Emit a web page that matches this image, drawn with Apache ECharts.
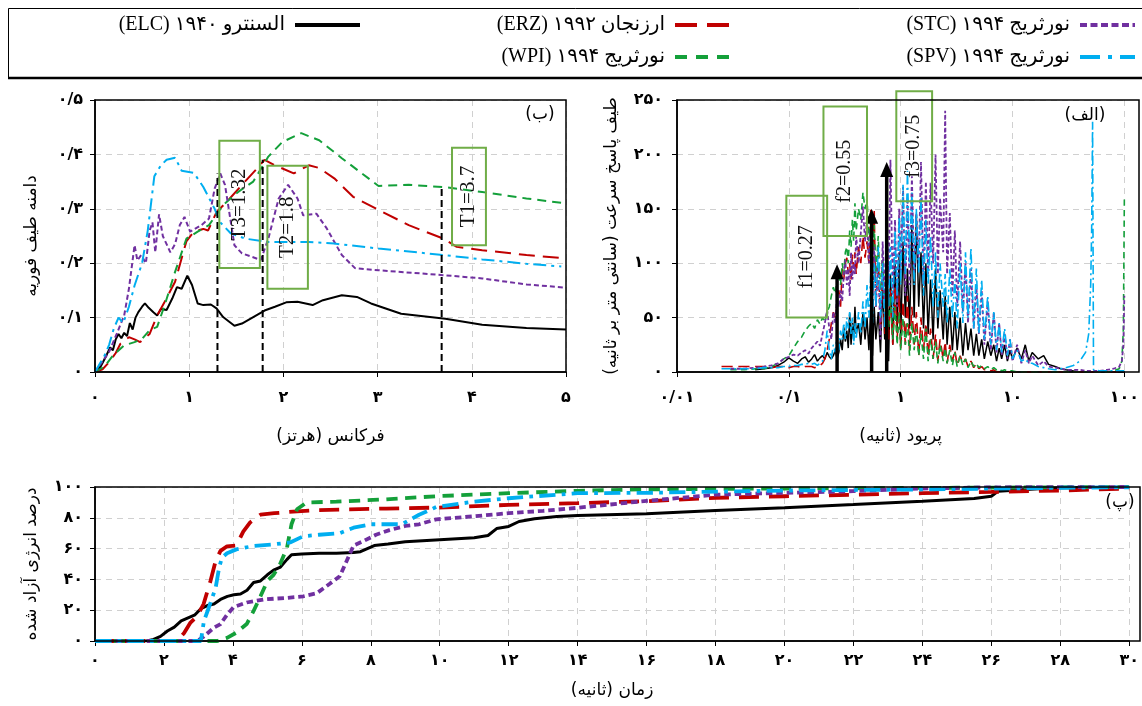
<!DOCTYPE html>
<html><head><meta charset="utf-8">
<script src="https://cdn.jsdelivr.net/npm/echarts@6/dist/echarts.min.js"></script>
<style>html,body{margin:0;padding:0;background:#fff}#c{width:1142px;height:706px;direction:rtl}</style>
</head><body><div id="c" dir="rtl"></div>
<script>
// ---------- names ----------
const nELC = 'السنترو ۱۹۴۰ (ELC)';
const nERZ = 'ارزنجان ۱۹۹۲ (ERZ)';
const nSTC = 'نورثریج ۱۹۹۴ (STC)';
const nSPV = 'نورثریج ۱۹۹۴ (SPV)';
const nWPI = 'نورثریج ۱۹۹۴ (WPI)';

// ---------- tick labels ----------
const fxLabels = ['۰','۱','۲','۳','۴','۵'];
const fyLabels = ['۰','۰/۱','۰/۲','۰/۳','۰/۴','۰/۵'];
const spxLabels = ['۰/۰۱','۰/۱','۱','۱۰','۱۰۰'];
const spyLabels = ['۰','۵۰','۱۰۰','۱۵۰','۲۰۰','۲۵۰'];
const exLabels = ['۰','۲','۴','۶','۸','۱۰','۱۲','۱۴','۱۶','۱۸','۲۰','۲۲','۲۴','۲۶','۲۸','۳۰'];
const eyLabels = ['۰','۲۰','۴۰','۶۰','۸۰','۱۰۰'];

// ---------- (ب) Fourier amplitude spectrum: [freq Hz, amplitude] ----------
const fELC = [[0,0],[0.06,0.01],[0.12,0.03],[0.16,0.045],[0.19,0.04],[0.22,0.06],[0.25,0.07],[0.28,0.062],[0.31,0.072],[0.34,0.066],[0.37,0.09],[0.4,0.078],[0.43,0.1],[0.46,0.11],[0.5,0.12],[0.53,0.126],[0.57,0.118],[0.62,0.11],[0.66,0.104],[0.7,0.116],[0.76,0.114],[0.82,0.135],[0.87,0.156],[0.92,0.153],[0.98,0.177],[1.03,0.16],[1.09,0.126],[1.15,0.123],[1.23,0.124],[1.29,0.117],[1.36,0.101],[1.48,0.085],[1.56,0.089],[1.68,0.101],[1.8,0.113],[1.91,0.12],[2.03,0.128],[2.15,0.129],[2.31,0.123],[2.42,0.132],[2.62,0.141],[2.78,0.138],[2.93,0.126],[3.25,0.107],[3.72,0.098],[4.11,0.087],[4.58,0.081],[5,0.078]];
const fERZ = [[0,0],[0.08,0.005],[0.15,0.018],[0.22,0.035],[0.27,0.052],[0.36,0.064],[0.42,0.06],[0.48,0.055],[0.58,0.07],[0.66,0.104],[0.74,0.129],[0.85,0.166],[0.97,0.24],[1.05,0.258],[1.15,0.263],[1.2,0.26],[1.29,0.294],[1.4,0.313],[1.56,0.344],[1.72,0.374],[1.8,0.39],[1.91,0.38],[2.11,0.365],[2.27,0.38],[2.38,0.375],[2.54,0.356],[2.74,0.322],[3.01,0.298],[3.33,0.27],[3.7,0.245],[3.84,0.23],[4.11,0.224],[4.58,0.215],[5,0.209]];
const fWPI = [[0,0],[0.1,0.01],[0.19,0.03],[0.31,0.049],[0.42,0.055],[0.5,0.061],[0.58,0.077],[0.66,0.083],[0.74,0.123],[0.85,0.184],[0.97,0.245],[1.09,0.258],[1.21,0.27],[1.36,0.307],[1.52,0.331],[1.68,0.35],[1.84,0.396],[1.99,0.423],[2.19,0.439],[2.38,0.426],[2.62,0.393],[3.01,0.342],[3.33,0.344],[3.7,0.34],[4.11,0.331],[4.58,0.319],[5,0.31]];
const fSTC = [[0,0],[0.15,0.037],[0.23,0.07],[0.31,0.104],[0.36,0.153],[0.42,0.233],[0.45,0.205],[0.49,0.215],[0.54,0.2],[0.58,0.26],[0.61,0.275],[0.64,0.22],[0.68,0.29],[0.72,0.25],[0.76,0.235],[0.8,0.22],[0.85,0.235],[0.9,0.27],[0.95,0.285],[1.01,0.258],[1.13,0.27],[1.21,0.282],[1.27,0.337],[1.33,0.365],[1.38,0.344],[1.48,0.233],[1.56,0.218],[1.76,0.206],[1.84,0.245],[1.95,0.319],[2.05,0.344],[2.15,0.319],[2.21,0.288],[2.35,0.291],[2.46,0.264],[2.62,0.215],[2.76,0.191],[3.01,0.187],[3.7,0.178],[4.11,0.172],[4.58,0.161],[5,0.155]];
const fSPV = [[0,0],[0.1,0.03],[0.15,0.05],[0.2,0.08],[0.25,0.1],[0.3,0.09],[0.36,0.12],[0.42,0.159],[0.5,0.2],[0.56,0.26],[0.63,0.36],[0.7,0.38],[0.76,0.39],[0.85,0.394],[0.92,0.37],[1.05,0.366],[1.15,0.34],[1.27,0.3],[1.33,0.275],[1.44,0.255],[1.6,0.245],[1.84,0.239],[2.27,0.239],[2.54,0.236],[3.01,0.227],[3.7,0.215],[4.11,0.207],[4.58,0.199],[4.95,0.194]];
// annotation lines (freq, top amplitude) and boxes [f1, f2, a1, a2]
const fMarkFreq = [1.3, 1.78, 3.68];
const fMarkTop = [0.365, 0.39, 0.338];
const fBoxes = [[1.32,1.75,0.191,0.425],[1.83,2.26,0.153,0.379],[3.79,4.15,0.233,0.412]];
const fBoxText = ['T3=1.32','T2=1.8','T1=3.7'];

// ---------- (الف) velocity response spectrum ----------
const spPeriod = [0.025,0.03,0.04,0.05,0.06,0.07,0.08,0.09,0.1,0.11,
0.12,0.13,0.14,0.15,0.16,0.17,0.18,0.19,0.2,0.21,
0.22,0.23,0.24,0.25,0.26,0.27,0.28,0.29,0.3,0.31,
0.32,0.33,0.34,0.35,0.36,0.37,0.38,0.39,0.4,0.42,
0.44,0.46,0.48,0.5,0.52,0.54,0.56,0.58,0.6,0.63,
0.66,0.69,0.72,0.75,0.78,0.81,0.85,0.89,0.93,0.97,
1.0,1.05,1.1,1.15,1.2,1.26,1.32,1.38,1.45,1.52,
1.6,1.68,1.76,1.85,1.95,2.05,2.15,2.25,2.4,2.5,
2.6,2.75,2.9,3.05,3.2,3.4,3.6,3.8,4.0,4.25,
4.5,4.75,5.0,5.3,5.6,6.0,6.4,6.8,7.2,7.6,
8.0,8.5,9.0,9.5,10,11,12,13,14,15,
17,19,21,24,27,30,35,40,45,48,
50,51,52,53,55,60,70,80,90,95,
98,100];
const spELC = [null,null,null,2,3,4,6,9,13,10,
8,12,14,9,12,16,10,13,15,12,
18,14,12,15,20,12,18,30,20,41,
28,38,22,54,25,45,30,60,35,45,
25,55,30,50,20,58,15,60,30,55,
18,80,30,70,10,90,25,100,40,110,
30,120,50,95,40,135,50,145,60,110,
40,100,35,85,30,95,40,75,30,70,
25,60,20,55,20,50,15,45,20,40,
15,35,15,30,12,28,15,25,10,22,
12,25,10,20,12,22,12,25,10,18,
12,15,7,5,3,2,1,0,0,0,
0,0,0,0,0,0,0,0,0,0,
0,0];
const spERZ = [5,5,5,5,5,4,5,5,4,5,
5,4,5,5,5,4,5,6,8,12,
20,30,45,55,50,62,75,60,95,85,
100,105,90,100,85,108,95,110,90,115,
100,125,105,120,100,150,90,148,60,110,
40,95,35,85,30,75,25,80,30,70,
20,65,25,70,20,60,25,55,15,50,
20,45,15,40,12,35,10,30,12,28,
8,25,10,20,6,15,8,12,5,10,
4,8,3,5,2,3,1,2,0,0,
0,0,0,0,0,0,0,0,0,0,
0,0,0,0,0,0,0,0,0,0,
0,0,0,0,0,0,0,0,0,0,
0,0];
const spWPI = [null,2,2,3,3,5,8,12,15,22,
28,32,38,42,45,40,48,44,50,46,
55,60,70,78,72,85,91,80,100,90,
110,115,100,130,115,140,120,155,130,150,
140,165,150,160,120,140,110,135,90,125,
70,110,60,95,40,70,30,60,25,55,
20,50,25,45,15,45,20,40,15,35,
12,40,10,30,12,28,8,25,10,22,
8,20,6,18,5,15,6,12,4,10,
5,8,4,6,3,5,2,4,2,3,
1,2,1,1,1,0,0,0,0,0,
0,0,0,0,0,0,0,0,0,0,
0,0,0,0,0,0,0,1,3,10,
40,160];
const spSTC = [null,3,3,4,5,6,8,12,14,16,
15,18,20,17,22,25,28,24,35,45,
57,40,30,55,45,70,60,75,65,90,
103,80,95,70,110,85,100,90,125,100,
128,152,120,140,100,130,70,115,60,100,
30,120,60,150,80,195,70,140,60,150,
90,170,70,160,80,180,90,145,100,193,
80,175,90,174,100,200,90,160,110,240,
90,146,70,130,60,120,55,100,45,95,
40,80,35,75,25,65,20,55,18,45,
15,35,12,30,10,25,8,20,8,15,
6,10,5,4,3,2,2,2,1,1,
1,1,1,1,1,1,2,3,5,10,
25,70];
const spSPV = [3,3,3,3,4,4,4,5,5,6,
6,7,7,8,7,8,6,8,10,20,
38,20,12,25,18,35,20,38,30,45,
30,50,40,55,35,50,25,45,30,55,
35,65,40,80,50,90,45,100,60,115,
50,100,40,120,60,115,50,130,70,143,
80,172,90,185,100,165,80,150,90,160,
70,140,80,125,60,110,50,100,60,90,
45,95,50,85,40,100,45,110,50,114,
40,95,35,85,30,70,25,55,20,45,
18,40,15,30,12,20,10,12,8,8,
5,4,3,2,3,4,6,10,18,35,
80,130,230,2,1,1,1,1,1,1,
1,1];
// arrows (period, height) and boxes [T1, T2, V1, V2]
const spArrowT = [0.27, 0.55, 0.75];
const spArrowV = [99, 150, 193];
const spBoxes = [[0.095,0.22,50,162],[0.204,0.5,125,244],[0.914,1.91,157,258]];
const spBoxText = ['f1=0.27','f2=0.55','f3=0.75'];

// ---------- (پ) released energy percentage: [time s, %] ----------
const eELC = [[0,0],[1.5,0],[1.7,1],[1.9,3],[2.1,6.5],[2.3,9],[2.5,13],[2.7,15],[2.9,17],[3.07,21],[3.26,23],[3.45,24],[3.64,27],[3.84,29],[4.03,30],[4.22,30.5],[4.41,33],[4.6,38],[4.8,39],[5.0,43],[5.18,46],[5.38,48],[5.57,53],[5.7,56],[6.0,56.5],[6.5,57],[7.0,57],[7.5,57.5],[7.7,58],[7.9,60],[8.1,62],[8.5,63],[9,64.5],[10,65.8],[11,67],[11.4,68.5],[11.65,73],[12,74.4],[12.3,77.6],[12.75,79.4],[13.4,80.9],[14,81.5],[16,82.6],[18,84.8],[20,86.5],[22,88.6],[24,90.8],[25.5,92.5],[26,94],[26.2,97.3],[27,98.4],[27.5,99],[28,99.5],[30,100]];
const eERZ = [[0,0],[2.38,0],[2.58,5],[2.77,12],[2.96,16],[3.15,24],[3.35,39],[3.5,52],[3.64,58.5],[3.83,61.5],[4.1,62],[4.3,71],[4.5,77],[4.8,82],[5.2,83],[5.75,84],[6.5,85],[8.45,86],[9.9,86.6],[12,88.4],[14,89.5],[16,90.8],[18,93],[20,94],[22,95],[24,96],[26,96.8],[28,97.7],[30,99]];
const eSPV = [[0,0],[3.07,0],[3.16,13],[3.3,21.6],[3.5,34.6],[3.6,47.6],[3.68,54],[3.83,57],[4.1,59.5],[4.6,61.7],[5.2,62.8],[5.66,64],[6.04,68],[6.5,69],[7.1,70],[7.5,73.6],[8,75.8],[8.9,75.8],[9.4,82],[9.9,87],[11,90.5],[12,92.7],[14,96],[16,96.2],[20,97.7],[24,98.4],[28,99.5],[30,99.8]];
const eSTC = [[0,0],[2.97,0],[3.16,3],[3.45,8.7],[3.64,11],[3.83,17],[4.02,22],[4.4,25],[4.9,27],[5.56,28],[6.04,29],[6.43,31],[6.8,37],[7.1,42],[7.3,52],[7.5,62],[7.8,65],[8.15,69],[8.54,72],[9,74.7],[9.4,75.8],[9.9,79],[11,81],[12,83],[13,84.5],[14,86.5],[16,91],[18,95],[20,96.2],[22,97.3],[24,99],[26,99.8],[30,100]];
const eWPI = [[0,0],[3.55,0],[3.83,2],[4.1,5.4],[4.4,11],[4.6,19.5],[4.8,29],[5.0,39],[5.18,43],[5.37,50],[5.57,60.6],[5.7,75.8],[5.86,85.5],[6.14,90],[7,90.5],[8.45,92],[9.9,94],[12,96],[14,97.5],[16,98.5],[20,99],[25,99.5],[30,100]];

// ---------- legend entries (row order right-to-left) ----------
const legendNames = [nSTC, nERZ, nELC, nSPV, nWPI];
const legendKeys = ['STC','ERZ','ELC','SPV','WPI'];

// ---------- styles ----------
const SERIF = "'Liberation Serif','DejaVu Sans',serif";
const PFONT = "'DejaVu Sans','Liberation Serif',sans-serif";
const ST = {
  ELC:{color:'#000000', dash:'solid'},
  ERZ:{color:'#c00000', dash:[16,8]},
  WPI:{color:'#14a03a', dash:[9,6]},
  STC:{color:'#7030a0', dash:[5,3]},
  SPV:{color:'#00aef0', dash:[13,5,3,5]}
};
const LEGDASH = {ELC:null, ERZ:[22,10], WPI:[12,9], STC:[7,3.5], SPV:[20,8,4,8]};
const legendPos = [[1080,1135,25],[675,735,25],[295,360,25],[1080,1135,57],[675,735,57]];
const BOXC = '#70ad47';
const GRIDS = [[95,100,471,272],[677,100,462,272],[95,487,1045,154]];

function ln(name, key, data, idx, width, dashScale){
  const s = ST[key];
  let t = s.dash;
  if (Array.isArray(t) && dashScale) t = t.map(v=>v*dashScale);
  return {name, type:'line', xAxisIndex:idx, yAxisIndex:idx, data, symbol:'none', showSymbol:false,
    lineStyle:{color:s.color, width, type:t, cap:'butt'}, itemStyle:{color:s.color}, animation:false, z:2};
}
const zip = (xs, ys) => xs.map((x,i)=>[x, ys[i]]);

const axisLineS = {show:true, lineStyle:{color:'#000', width:1.5}};
const tickS = {show:true, length:5, lineStyle:{color:'#000', width:1}};
const splitS = {show:true, lineStyle:{color:'#d0d0d0', type:[6,5], width:1}};
const lblS = {color:'#000', fontFamily:PFONT, fontSize:16, fontWeight:'bold', showMinLabel:true, showMaxLabel:true};
const nameS = {color:'#000', fontFamily:PFONT, fontSize:17};

const series = [
  ln(nELC,'ELC',eELC,2,3),
  ln(nERZ,'ERZ',eERZ,2,3.8,1.25),
  ln(nWPI,'WPI',eWPI,2,3.8,1.25),
  ln(nSTC,'STC',eSTC,2,3.8,1.3),
  ln(nSPV,'SPV',eSPV,2,3.8,1.25),
  ln(nELC,'ELC',fELC,0,2),
  ln(nERZ,'ERZ',fERZ,0,2),
  ln(nWPI,'WPI',fWPI,0,2),
  ln(nSTC,'STC',fSTC,0,2),
  ln(nSPV,'SPV',fSPV,0,2),
  ln(nELC,'ELC',zip(spPeriod,spELC),1,1.5),
  ln(nERZ,'ERZ',zip(spPeriod,spERZ),1,1.6,0.7),
  ln(nWPI,'WPI',zip(spPeriod,spWPI),1,1.6,0.7),
  ln(nSTC,'STC',zip(spPeriod,spSTC),1,1.8,0.8),
  ln(nSPV,'SPV',zip(spPeriod,spSPV),1,1.6,0.7),
  {type:'custom', xAxisIndex:0, yAxisIndex:0, silent:true, z:5, animation:false,
   data: zip(fMarkFreq, fMarkTop), encode:{x:0,y:1},
   renderItem:(p,api)=>{
     const a = api.coord([api.value(0),0]), b = api.coord([api.value(0),api.value(1)]);
     return {type:'line', shape:{x1:a[0],y1:a[1],x2:b[0],y2:b[1]}, style:{stroke:'#000', lineWidth:2, lineDash:[7,4]}};
   }},
  {type:'custom', xAxisIndex:0, yAxisIndex:0, silent:true, z:6, animation:false,
   data: fBoxes, encode:{x:[0,1], y:[2,3]},
   renderItem:(p,api)=>{
     const a = api.coord([api.value(0),api.value(3)]), b = api.coord([api.value(1),api.value(2)]);
     return {type:'group', children:[
       {type:'rect', shape:{x:a[0],y:a[1],width:b[0]-a[0],height:b[1]-a[1]}, style:{fill:'rgba(0,0,0,0)', stroke:BOXC, lineWidth:2}},
       {type:'text', x:(a[0]+b[0])/2, y:(a[1]+b[1])/2, rotation:Math.PI/2,
        style:{text:fBoxText[p.dataIndex], fill:'#111', font:"21px 'Liberation Serif'", align:'center', verticalAlign:'middle'}}
     ]};
   }},
  {type:'custom', xAxisIndex:1, yAxisIndex:1, silent:true, z:6, animation:false,
   data: zip(spArrowT, spArrowV), encode:{x:0,y:1},
   renderItem:(p,api)=>{
     const a = api.coord([api.value(0),0]), b = api.coord([api.value(0),api.value(1)]);
     return {type:'group', children:[
       {type:'line', shape:{x1:a[0],y1:a[1],x2:b[0],y2:b[1]+12}, style:{stroke:'#000', lineWidth:3.5}},
       {type:'polygon', shape:{points:[[b[0],b[1]],[b[0]-6.5,b[1]+15],[b[0]+6.5,b[1]+15]]}, style:{fill:'#000'}}
     ]};
   }},
  {type:'custom', xAxisIndex:1, yAxisIndex:1, silent:true, z:7, animation:false, clip:false,
   data: spBoxes, encode:{x:[0,1], y:[2,3]},
   renderItem:(p,api)=>{
     const a = api.coord([api.value(0),api.value(3)]), b = api.coord([api.value(1),api.value(2)]);
     return {type:'group', children:[
       {type:'rect', shape:{x:a[0],y:a[1],width:b[0]-a[0],height:b[1]-a[1]}, style:{fill:'rgba(0,0,0,0)', stroke:BOXC, lineWidth:2}},
       {type:'text', x:(a[0]+b[0])/2, y:(a[1]+b[1])/2, rotation:Math.PI/2,
        style:{text:spBoxText[p.dataIndex], fill:'#111', font:"20px 'Liberation Serif'", align:'center', verticalAlign:'middle'}}
     ]};
   }}
];

// legend drawn as graphic elements (line sample + real text)
const legendGraphics = [];
legendNames.forEach((nm,i)=>{
  const k = legendKeys[i], p = legendPos[i];
  const st = {stroke:ST[k].color, lineWidth:4};
  if (LEGDASH[k]) st.lineDash = LEGDASH[k];
  legendGraphics.push({type:'line', shape:{x1:p[0], y1:p[2], x2:p[1], y2:p[2]}, style:st, z:10});
  legendGraphics.push({type:'text', x:p[0]-10, y:p[2], style:{text:nm, fill:'#000', font:"20px 'Liberation Serif','DejaVu Sans'", align:'right', verticalAlign:'middle'}, z:10});
});
// plot frames drawn above the dashed split lines
const frameGraphics = GRIDS.map(g=>({type:'rect', shape:{x:g[0], y:g[1], width:g[2], height:g[3]}, style:{fill:'none', stroke:'#000', lineWidth:1.5}, z:50, silent:true}));

const option = {
  backgroundColor:'#fff',
  animation:false,
  grid: GRIDS.map(g=>({left:g[0], top:g[1], width:g[2], height:g[3], containLabel:false})),
  xAxis:[
    {gridIndex:0, type:'value', min:0, max:5, interval:1, axisLine:axisLineS, axisTick:tickS, splitLine:splitS,
     axisLabel:Object.assign({}, lblS, {margin:18, formatter:v=>fxLabels[Math.round(v)]}),
     name:'فرکانس (هرتز)', nameLocation:'middle', nameGap:56, nameTextStyle:nameS},
    {gridIndex:1, type:'log', logBase:10, min:0.01, max:100, axisLine:axisLineS, axisTick:tickS, splitLine:splitS,
     axisLabel:Object.assign({}, lblS, {margin:18, formatter:v=>spxLabels[Math.round(Math.log10(v))+2]}),
     name:'پریود (ثانیه)', nameLocation:'middle', nameGap:56, nameTextStyle:nameS},
    {gridIndex:2, type:'value', min:0, max:30, interval:2, axisLine:axisLineS, axisTick:tickS, splitLine:splitS,
     axisLabel:Object.assign({}, lblS, {margin:12, formatter:v=>exLabels[Math.round(v/2)]}),
     name:'زمان (ثانیه)', nameLocation:'middle', nameGap:41, nameTextStyle:nameS}
  ],
  yAxis:[
    {gridIndex:0, type:'value', min:0, max:0.5, interval:0.1, axisLine:axisLineS, axisTick:tickS, splitLine:splitS,
     axisLabel:Object.assign({}, lblS, {margin:12, formatter:v=>fyLabels[Math.round(v*10)]}),
     name:'دامنه طیف فوریه', nameLocation:'middle', nameGap:55, nameRotate:90, nameTextStyle:nameS},
    {gridIndex:1, type:'value', min:0, max:250, interval:50, axisLine:axisLineS, axisTick:tickS, splitLine:splitS,
     axisLabel:Object.assign({}, lblS, {margin:14, formatter:v=>spyLabels[Math.round(v/50)]}),
     name:'طیف پاسخ سرعت (سانتی متر بر ثانیه)', nameLocation:'middle', nameGap:57, nameRotate:90, nameTextStyle:nameS},
    {gridIndex:2, type:'value', min:0, max:100, interval:20, axisLine:axisLineS, axisTick:tickS, splitLine:splitS,
     axisLabel:Object.assign({}, lblS, {margin:12, formatter:v=>eyLabels[Math.round(v/20)]}),
     name:'درصد انرژی آزاد شده', nameLocation:'middle', nameGap:55, nameRotate:90, nameTextStyle:nameS}
  ],
  graphic:[
    {type:'rect', shape:{x:8.5, y:8.5, width:1140, height:69}, style:{fill:'none', stroke:'#000', lineWidth:1}, z:0},
    {type:'line', shape:{x1:8, y1:78, x2:1142, y2:78}, style:{stroke:'#000', lineWidth:2.5}},
    {type:'text', x:540, y:115, style:{text:'(ب)', fill:'#000', font:"17px 'DejaVu Sans'", align:'center', verticalAlign:'middle'}, z:10},
    {type:'text', x:1085, y:116, style:{text:'(الف)', fill:'#000', font:"17px 'DejaVu Sans'", align:'center', verticalAlign:'middle'}, z:10},
    {type:'text', x:1120, y:503, style:{text:'(پ)', fill:'#000', font:"17px 'DejaVu Sans'", align:'center', verticalAlign:'middle'}, z:10}
  ].concat(legendGraphics, frameGraphics),
  series
};
const chart = echarts.init(document.getElementById('c'), null, {renderer:'canvas'});
chart.setOption(option);
</script></body></html>
